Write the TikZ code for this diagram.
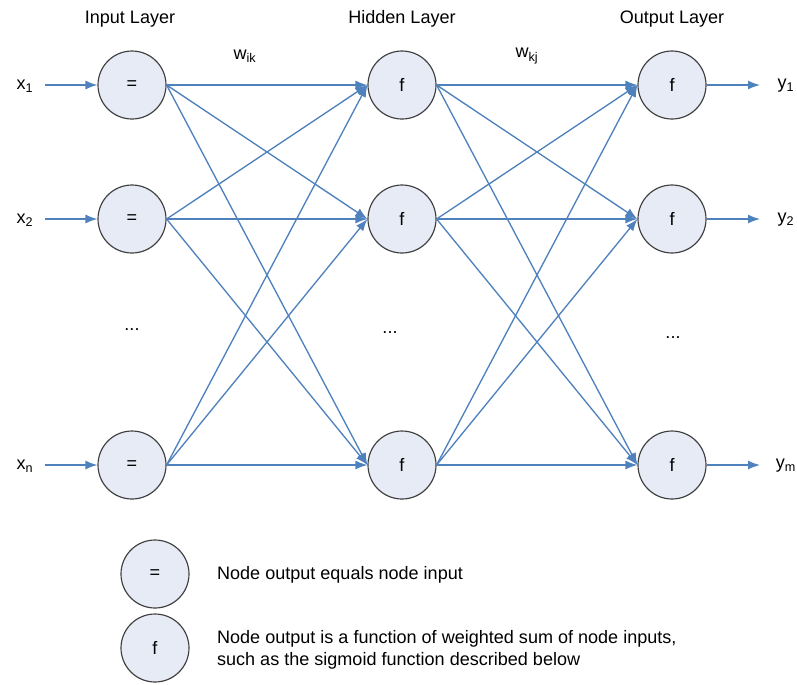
\documentclass[tikz,border=0pt]{standalone}
\usepackage{fontspec}
\setmainfont{Liberation Sans}
\usetikzlibrary{positioning}
\usetikzlibrary{arrows.meta}
\definecolor{linkblue}{RGB}{79,129,189}
\definecolor{nodefill}{RGB}{230,235,246}

\begin{document}
\begin{tikzpicture}[x=0.3mm, y=-0.3mm, font=\fontsize{15.4}{18.5}\selectfont,
    neuron/.style={circle, draw=black!75, fill=nodefill, line width=0.35mm, minimum size=20.4mm, inner sep=0pt},
    link/.style={draw=linkblue, line width=0.4mm, -{Latex[length=3.6mm,width=2.7mm]}}]

    \useasboundingbox (0,0) rectangle (797,684);

    % Headings
    \node (inHead) at (130,19) {Input Layer};
    \node (hidHead) at (402,19) {Hidden Layer};
    \node (outHead) at (672,19) {Output Layer};
    \node (wik) at (245,56) {w\textsubscript{ik}};
    \node (wkj) at (527,56) {w\textsubscript{kj}};

    % Input layer
    \node[neuron] (in1) at (132,85) {=};
    \node[neuron] (in2) at (132,219) {=};
    \node[neuron] (inn) at (132,465) {=};
    \node (inDots) at (132,330) {...};

    % Hidden layer
    \node[neuron] (hid1) at (402,85) {f};
    \node[neuron] (hid2) at (402,219) {f};
    \node[neuron] (hidn) at (402,465) {f};
    \node (hidDots) at (390,333) {...};

    % Output layer
    \node[neuron] (out1) at (672,85) {f};
    \node[neuron] (out2) at (672,219) {f};
    \node[neuron] (outm) at (672,465) {f};
    \node (outDots) at (673,338) {...};

    % Inputs and outputs
    \node (x1) at (25,86) {x\textsubscript{1}};
    \node (x2) at (25,220) {x\textsubscript{2}};
    \node (xn) at (25,466) {x\textsubscript{n}};
    \node (y1) at (786,86) {y\textsubscript{1}};
    \node (y2) at (786,220) {y\textsubscript{2}};
    \node (ym) at (786,466) {y\textsubscript{m}};
    \coordinate (x1e) at (45,85);
    \coordinate (x2e) at (45,219);
    \coordinate (xne) at (45,465);
    \coordinate (y1e) at (760,85);
    \coordinate (y2e) at (760,219);
    \coordinate (yme) at (760,465);
    \draw[link] (x1e) -- (in1.west);
    \draw[link] (x2e) -- (in2.west);
    \draw[link] (xne) -- (inn.west);
    \draw[link] (out1.east) -- (y1e);
    \draw[link] (out2.east) -- (y2e);
    \draw[link] (outm.east) -- (yme);

    % Weights input -> hidden
    \draw[link] (in1.east) -- (hid1.west);
    \draw[link] (in1.east) -- (hid2.west);
    \draw[link] (in1.east) -- (hidn.west);
    \draw[link] (in2.east) -- (hid1.west);
    \draw[link] (in2.east) -- (hid2.west);
    \draw[link] (in2.east) -- (hidn.west);
    \draw[link] (inn.east) -- (hid1.west);
    \draw[link] (inn.east) -- (hid2.west);
    \draw[link] (inn.east) -- (hidn.west);

    % Weights hidden -> output
    \draw[link] (hid1.east) -- (out1.west);
    \draw[link] (hid1.east) -- (out2.west);
    \draw[link] (hid1.east) -- (outm.west);
    \draw[link] (hid2.east) -- (out1.west);
    \draw[link] (hid2.east) -- (out2.west);
    \draw[link] (hid2.east) -- (outm.west);
    \draw[link] (hidn.east) -- (out1.west);
    \draw[link] (hidn.east) -- (out2.west);
    \draw[link] (hidn.east) -- (outm.west);

    % Legend
    \node[neuron] (keyEq) at (155,574) {=};
    \node[neuron] (keyF) at (155,648) {f};
    \node[anchor=west] (keyEqText) at (213,575) {Node output equals node input};
    \node[anchor=west, align=left] (keyFText) at (213,650) {Node output is a function of weighted sum of node inputs,\\such as the sigmoid function described below};

\end{tikzpicture}
\end{document}
